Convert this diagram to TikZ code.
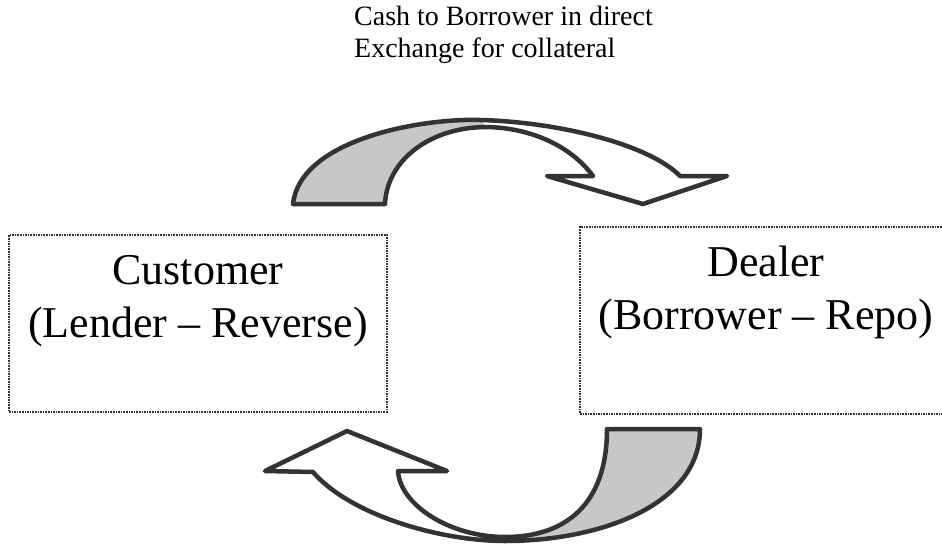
\documentclass[tikz,border=0pt]{standalone}
\usepackage{fontspec}
\setmainfont{Liberation Serif}
\tikzset{
  partybox/.style={draw=black!80, line width=1.2pt, dash pattern=on 1.6pt off 1pt, inner sep=0pt},
  partytext/.style={font=\fontsize{44}{53}\selectfont, align=center, inner sep=0pt, anchor=north},
  captiontext/.style={font=\fontsize{28}{32}\selectfont, align=left, inner sep=0pt, anchor=north west},
  arrowoutline/.style={draw=black!80, line width=4.5pt, line join=round, line cap=round},
  backface/.style={fill=black!22},
}
\begin{document}
\begin{tikzpicture}[x=1pt,y=-1pt]
\useasboundingbox (0,0) rectangle (942,544);
\fill[white] (0,0) rectangle (942,544);

% caption
\node[captiontext] (caption) at (354,6) {Cash to Borrower in direct\\Exchange for collateral};

% party boxes
\node[partybox, minimum width=378pt, minimum height=177pt] (cust) at (198,323.5) {};
\node[partytext] (custtext) at (198,255) {Customer\\(Lender – Reverse)};
\node[partybox, minimum width=372pt, minimum height=187pt] (deal) at (766,320.5) {};
\node[partytext] (dealtext) at (766,246) {Dealer\\(Borrower – Repo)};

% top block arrow (customer -> dealer)
\fill[white] (293,204) .. controls (300,140) and (420,118) .. (480,120)
  .. controls (560,122) and (650,145) .. (680,176) -- (727,176) -- (643,204) -- (547,176) -- (593,176)
  .. controls (570,145) and (530,128) .. (487,127)
  .. controls (430,127) and (387,160) .. (385,204) -- cycle;
\fill[backface] (293,204) .. controls (300,140) and (420,118) .. (480,120) -- (487,127)
  .. controls (430,127) and (387,160) .. (385,204) -- cycle;
\draw[arrowoutline] (293,204) .. controls (300,140) and (420,118) .. (480,120)
  .. controls (560,122) and (650,145) .. (680,176) -- (727,176) -- (643,204) -- (547,176) -- (593,176)
  .. controls (570,145) and (530,128) .. (487,127)
  .. controls (430,127) and (387,160) .. (385,204) -- cycle;

% bottom block arrow (dealer -> customer)
\fill[white] (607,429) -- (700,429) .. controls (700,505) and (600,541) .. (505,541)
  .. controls (440,541) and (350,515) .. (313,472) -- (265,471) -- (347,431) -- (447,471) -- (398,471)
  .. controls (400,505) and (450,537) .. (505,537)
  .. controls (565,537) and (607,505) .. (607,429) -- cycle;
\fill[backface] (607,429) -- (700,429) .. controls (700,505) and (600,541) .. (505,541)
  -- (505,537) .. controls (565,537) and (607,505) .. (607,429) -- cycle;
\draw[arrowoutline] (607,429) -- (700,429) .. controls (700,505) and (600,541) .. (505,541)
  .. controls (440,541) and (350,515) .. (313,472) -- (265,471) -- (347,431) -- (447,471) -- (398,471)
  .. controls (400,505) and (450,537) .. (505,537)
  .. controls (565,537) and (607,505) .. (607,429) -- cycle;
\end{tikzpicture}
\end{document}
